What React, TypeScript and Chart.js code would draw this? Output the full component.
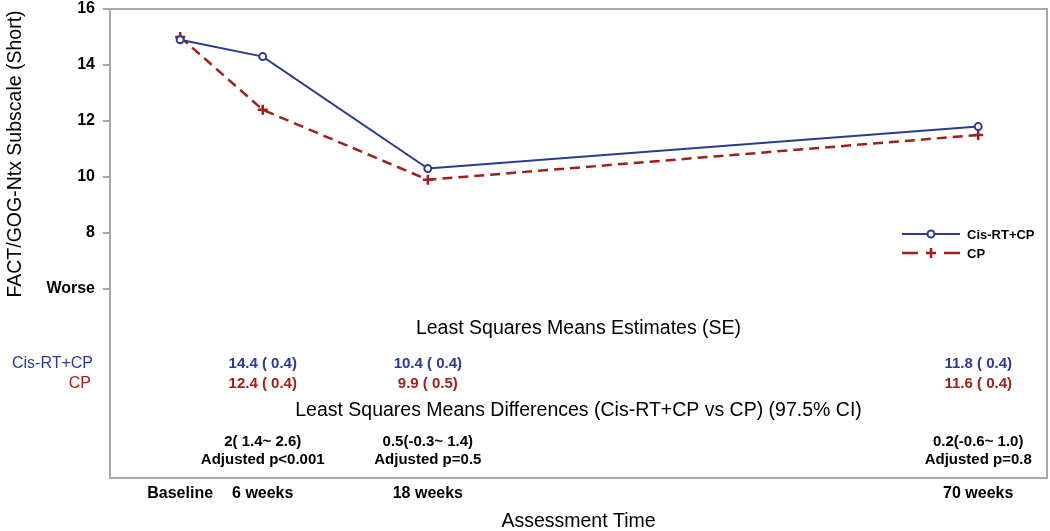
import React, { useEffect, useRef } from 'react';
import { Chart, registerables } from 'chart.js';

Chart.register(...registerables);

// ---- data ----
const timeLabels = ['Baseline', '6 weeks', '18 weeks', '70 weeks'];
const timePositions = [0, 6, 18, 58];
const cisRtCpMeans = [14.9, 14.3, 10.3, 11.8];
const cpMeans = [15.0, 12.4, 9.9, 11.5];
const yTickValues = [6, 8, 10, 12, 14, 16];
const yTickLabels = ['Worse', '8', '10', '12', '14', '16'];
const seriesNames = ['Cis-RT+CP', 'CP'];
const cisEstimates = ['', '14.4 ( 0.4)', '10.4 ( 0.4)', '11.8 ( 0.4)'];
const cpEstimates = ['', '12.4 ( 0.4)', '9.9 ( 0.5)', '11.6 ( 0.4)'];
const diffCI = ['', '2( 1.4~ 2.6)', '0.5(-0.3~ 1.4)', '0.2(-0.6~ 1.0)'];
const diffP = ['', 'Adjusted p<0.001', 'Adjusted p=0.5', 'Adjusted p=0.8'];
const estimatesTitle = 'Least Squares Means Estimates (SE)';
const diffTitle = 'Least Squares Means Differences (Cis-RT+CP vs CP) (97.5% CI)';
const yTitle = 'FACT/GOG-Ntx Subscale (Short)';
const xTitle = 'Assessment Time';

const BLUE = '#2a3c8e';
const RED = '#a01f1c';
const FRAME = '#a8a8a8';
const FONT = '"Liberation Sans", Arial, sans-serif';

const overlayPlugin = {
  id: 'overlay',
  afterDraw(chart: any) {
    const { ctx, chartArea } = chart;
    const xs = chart.scales.x;
    const { left, right, top, bottom } = chartArea;
    const cx = (left + right) / 2;
    ctx.save();
    // frame
    ctx.strokeStyle = FRAME;
    ctx.lineWidth = 2;
    ctx.strokeRect(left, top, right - left, bottom - top);

    // y title
    ctx.save();
    ctx.translate(16, 154);
    ctx.rotate(-Math.PI / 2);
    ctx.fillStyle = '#000';
    ctx.font = `19.5px ${FONT}`;
    ctx.textAlign = 'center';
    ctx.textBaseline = 'middle';
    ctx.fillText(yTitle, 0, 0);
    ctx.restore();

    // table titles
    ctx.fillStyle = '#000';
    ctx.font = `19.5px ${FONT}`;
    ctx.textAlign = 'center';
    ctx.textBaseline = 'middle';
    ctx.fillText(estimatesTitle, cx, top + 320);
    ctx.fillText(diffTitle, cx, top + 402);

    // row labels
    ctx.font = `16px ${FONT}`;
    ctx.textAlign = 'right';
    ctx.fillStyle = BLUE;
    ctx.fillText(seriesNames[0], left - 17, top + 355);
    ctx.fillStyle = RED;
    ctx.fillText(seriesNames[1], left - 19, top + 375);

    // table values
    ctx.textAlign = 'center';
    ctx.font = `bold 15px ${FONT}`;
    timePositions.forEach((t, i) => {
      const px = xs.getPixelForValue(t);
      if (cisEstimates[i]) {
        ctx.fillStyle = BLUE;
        ctx.fillText(cisEstimates[i], px, top + 355);
      }
      if (cpEstimates[i]) {
        ctx.fillStyle = RED;
        ctx.fillText(cpEstimates[i], px, top + 375);
      }
      ctx.fillStyle = '#000';
      if (diffCI[i]) ctx.fillText(diffCI[i], px, top + 433);
      if (diffP[i]) ctx.fillText(diffP[i], px, top + 451);
    });

    // legend
    const lx0 = right - 145;
    const lx1 = right - 87;
    const lmid = (lx0 + lx1) / 2;
    const ly1 = top + 225;
    const ly2 = top + 244;
    ctx.lineWidth = 2;
    ctx.strokeStyle = BLUE;
    ctx.beginPath();
    ctx.moveTo(lx0, ly1);
    ctx.lineTo(lx1, ly1);
    ctx.stroke();
    ctx.beginPath();
    ctx.fillStyle = '#fff';
    ctx.arc(lmid, ly1, 3.5, 0, Math.PI * 2);
    ctx.fill();
    ctx.stroke();
    ctx.strokeStyle = RED;
    ctx.lineWidth = 2.5;
    ctx.beginPath();
    ctx.moveTo(lx0, ly2);
    ctx.lineTo(lx0 + 16, ly2);
    ctx.moveTo(lx1 - 16, ly2);
    ctx.lineTo(lx1, ly2);
    ctx.moveTo(lmid - 5, ly2);
    ctx.lineTo(lmid + 5, ly2);
    ctx.moveTo(lmid, ly2 - 5);
    ctx.lineTo(lmid, ly2 + 5);
    ctx.stroke();
    ctx.fillStyle = '#000';
    ctx.font = `bold 13px ${FONT}`;
    ctx.textAlign = 'left';
    ctx.fillText(seriesNames[0], right - 80, ly1 + 1);
    ctx.fillText(seriesNames[1], right - 80, ly2 + 1);
    ctx.restore();
  },
};

export default function App() {
  const ref = useRef<HTMLCanvasElement | null>(null);
  useEffect(() => {
    if (!ref.current) return;
    Chart.defaults.font.family = FONT;
    const chart = new Chart(ref.current, {
      type: 'line',
      data: {
        datasets: [
          {
            label: seriesNames[0],
            data: timePositions.map((t, i) => ({ x: t, y: cisRtCpMeans[i] })),
            borderColor: BLUE,
            backgroundColor: '#fff',
            borderWidth: 2,
            pointStyle: 'circle',
            pointRadius: 3.5,
            pointBorderWidth: 2,
            pointBackgroundColor: '#fff',
            pointBorderColor: BLUE,
          },
          {
            label: seriesNames[1],
            data: timePositions.map((t, i) => ({ x: t, y: cpMeans[i] })),
            borderColor: RED,
            backgroundColor: RED,
            borderWidth: 2.5,
            borderDash: [10, 6],
            pointStyle: 'cross',
            pointRadius: 5,
            pointBorderWidth: 2.5,
            pointBorderColor: RED,
          },
        ],
      },
      options: {
        animation: false,
        responsive: false,
        devicePixelRatio: 1,
        layout: { autoPadding: false, padding: { left: 0, top: 9, right: 3, bottom: 0 } },
        plugins: { legend: { display: false }, tooltip: { enabled: false } },
        scales: {
          x: {
            type: 'linear',
            min: -5.1,
            max: 63,
            afterBuildTicks: (scale: any) => {
              scale.ticks = timePositions.map((v) => ({ value: v }));
            },
            afterFit: (scale: any) => {
              scale.height = 53;
              scale.paddingLeft = 0;
              scale.paddingRight = 0;
            },
            ticks: {
              autoSkip: false,
              maxRotation: 0,
              padding: 6,
              color: '#000',
              font: { size: 16, weight: 'bold', family: FONT },
              callback: (v: any) => {
                const i = timePositions.indexOf(Number(v));
                return i >= 0 ? timeLabels[i] : '';
              },
            },
            grid: { display: false, drawTicks: false },
            border: { display: false },
            title: {
              display: true,
              text: xTitle,
              color: '#000',
              font: { size: 19.5, family: FONT },
              padding: { top: 0, bottom: -2 },
            },
          },
          y: {
            type: 'linear',
            min: -0.75,
            max: 16,
            afterBuildTicks: (scale: any) => {
              scale.ticks = yTickValues.map((v) => ({ value: v }));
            },
            afterFit: (scale: any) => {
              scale.width = 110;
              scale.paddingTop = 0;
              scale.paddingBottom = 0;
            },
            ticks: {
              padding: 8,
              color: '#000',
              font: { size: 16, weight: 'bold', family: FONT, lineHeight: 1 },
              callback: (v: any) => {
                const i = yTickValues.indexOf(Number(v));
                return i >= 0 ? yTickLabels[i] : '';
              },
            },
            grid: {
              display: true,
              drawOnChartArea: false,
              drawTicks: true,
              tickLength: 7,
              color: FRAME,
              lineWidth: 2,
            },
            border: { display: false },
          },
        },
      },
      plugins: [overlayPlugin],
    } as any);
    return () => chart.destroy();
  }, []);
  return (
    <div style={{ position: 'absolute', left: 0, top: 0, width: 1050, height: 531, background: '#fff' }}>
      <canvas ref={ref} width={1050} height={531} />
    </div>
  );
}
